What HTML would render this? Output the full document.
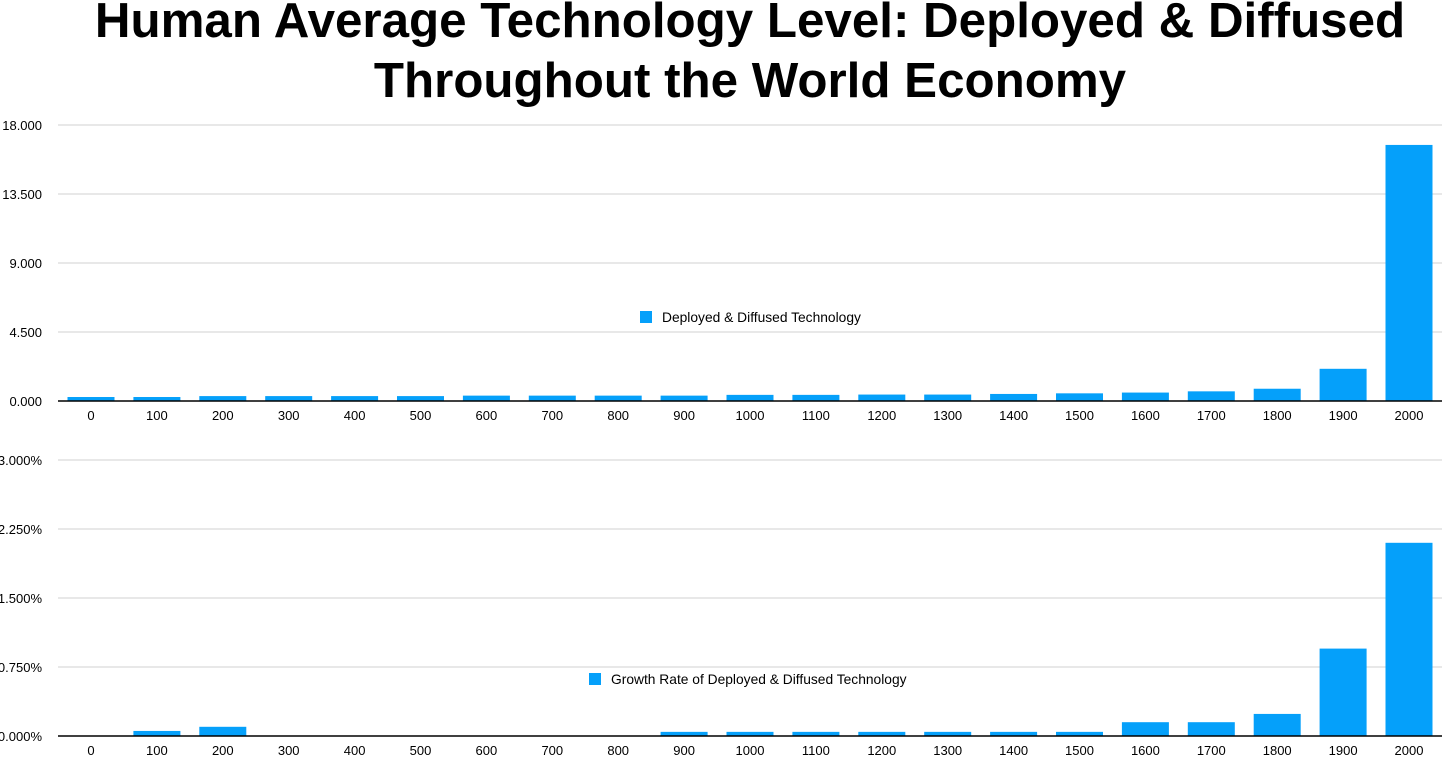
<!DOCTYPE html>
<html><head><meta charset="utf-8"><style>
body{margin:0;background:#fff;width:1456px;height:772px;overflow:hidden;font-family:"Liberation Sans",Arial,sans-serif}
</style></head><body>
<svg width="1456" height="772" xmlns="http://www.w3.org/2000/svg" font-family="Liberation Sans, Arial, sans-serif">
<text x="750" y="37" text-anchor="middle" font-size="49.3" font-weight="bold">Human Average Technology Level: Deployed &amp; Diffused</text>
<text x="750" y="97" text-anchor="middle" font-size="49.3" font-weight="bold">Throughout the World Economy</text>
<g id="top"></g><g id="bot"></g>
</svg>
<script>
const categories=["0","100","200","300","400","500","600","700","800","900","1000","1100","1200","1300","1400","1500","1600","1700","1800","1900","2000"];
const techValues=[0.26,0.26,0.32,0.32,0.32,0.32,0.35,0.35,0.35,0.35,0.4,0.4,0.42,0.42,0.46,0.5,0.55,0.63,0.8,2.1,16.7];
const growthValues=[0,0.055,0.1,0.003,0.003,0.003,0.003,0.003,0.003,0.045,0.045,0.045,0.045,0.045,0.045,0.045,0.15,0.15,0.24,0.95,2.1];
const topTicks=["0.000","4.500","9.000","13.500","18.000"];
const topTickVals=[0,4.5,9,13.5,18];
const botTicks=["0.000%","0.750%","1.500%","2.250%","3.000%"];
const botTickVals=[0,0.75,1.5,2.25,3];
const NS="http://www.w3.org/2000/svg";
function mk(p,t,a){const e=document.createElementNS(NS,t);for(const k in a)e.setAttribute(k,a[k]);p.appendChild(e);return e;}
function chart(gid,vals,ticks,tickVals,max,base,legend,lx,ly,prefix){
  const g=document.getElementById(gid);
  const y=v=>base-v/max*276;
  const x=i=>91+i*65.9;
  ticks.forEach((t,i)=>{
    const yy=y(tickVals[i]);
    const l=mk(g,'line',{x1:58,x2:1442,y1:yy,y2:yy,stroke:'#d0d0d0','stroke-width':1});
    
    
    const tx=mk(g,'text',{x:42,y:yy+5,'text-anchor':'end','font-size':13});
    tx.textContent=t;
    
    
  });
  vals.forEach((v,i)=>{
    const r=mk(g,'rect',{x:x(i)-23.5,y:y(v),width:47,height:base-y(v),fill:'#05a0fa'});
    
    
    const tx=mk(g,'text',{x:x(i),y:base+19,'text-anchor':'middle','font-size':13});
    tx.textContent=categories[i];
    
    
  });
  const ax=mk(g,'line',{x1:58,x2:1442,y1:base,y2:base,stroke:'#000','stroke-width':1.5});
  
  
  const sw=mk(g,'rect',{x:lx,y:ly-6,width:12,height:12,fill:'#05a0fa'});
  
  
  const lt=mk(g,'text',{x:lx+22,y:ly+5,'font-size':13.8});
  lt.textContent=legend;
  
  
}
chart('top',techValues,topTicks,topTickVals,18,401,'Deployed & Diffused Technology',640,317,'top');
chart('bot',growthValues,botTicks,botTickVals,3,736,'Growth Rate of Deployed & Diffused Technology',589,679,'growth');
</script>
</body></html>
